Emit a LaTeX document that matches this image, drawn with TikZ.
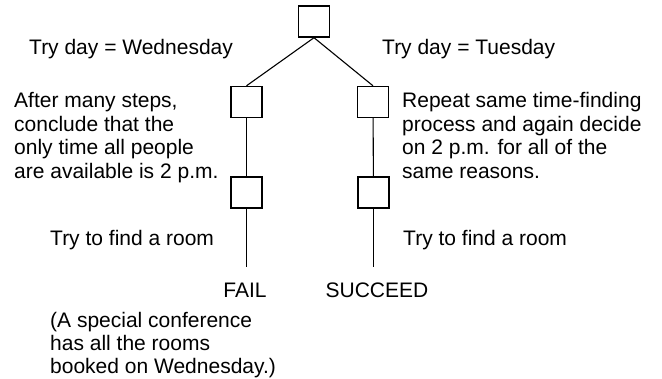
\documentclass[tikz,border=0pt]{standalone}
\usepackage{fontspec}
\setmainfont{Liberation Sans}
\begin{document}
\begin{tikzpicture}[x=1pt,y=-1pt,
  stepbox/.style={draw,line width=1.4pt,minimum size=31pt,inner sep=0pt},
  link/.style={line width=1.1pt},
  lbl/.style={inner sep=0pt,font=\fontsize{21}{23.5}\selectfont,align=left},
  lblw/.style={lbl,anchor=north west}]
\useasboundingbox (0,0) rectangle (662,379);
% tree of decision boxes
\node[stepbox] (top) at (314,21.5) {};
\node[stepbox] (l1) at (246.5,102) {};
\node[stepbox] (r1) at (373,102) {};
\node[stepbox] (l2) at (246.5,192.5) {};
\node[stepbox] (r2) at (373.5,192.5) {};
\coordinate (lend) at (246.5,267);
\coordinate (rend) at (373.5,267);
\draw[link] (top.south) -- (l1.north);
\draw[link] (top.south) -- (r1.north);
\draw[link] (l1) -- (l2);
\draw[link] (r1) -- (r2);
\draw[link] (l2) -- (lend);
\draw[link] (r2) -- (rend);
% labels
\node[lblw] (wed) at (29,39.5) {Try day = Wednesday};
\node[lblw] (tue) at (382,39.5) {Try day = Tuesday};
\node[lblw] (lpara) at (14,92.5) {After many steps,\\conclude that the\\only time all people\\are available is 2 p.m.};
\node[lblw] (rpara) at (402,92.5) {Repeat same time-finding\\process and again decide\\on 2 p.m. for all of the\\same reasons.};
\node[lblw] (lroom) at (50,230.5) {Try to find a room};
\node[lblw] (rroom) at (403,230.5) {Try to find a room};
\node[lbl,anchor=north] (fail) at (245,282.5) {FAIL};
\node[lbl,anchor=north] (succ) at (377,282.5) {SUCCEED};
\node[lblw,font=\fontsize{21}{23}\selectfont] (note) at (50,312.5) {(A special conference\\has all the rooms\\booked on Wednesday.)};
\end{tikzpicture}
\end{document}
